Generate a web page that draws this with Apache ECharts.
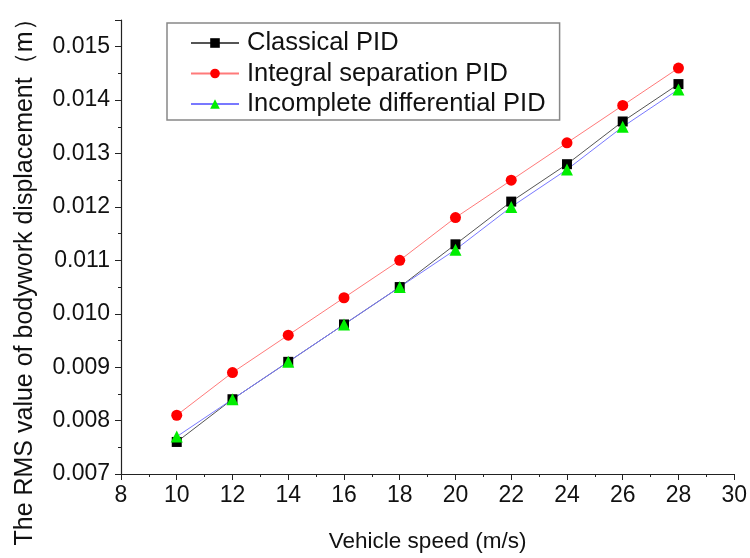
<!DOCTYPE html>
<html>
<head>
<meta charset="utf-8">
<script src="https://cdn.jsdelivr.net/npm/echarts@6/dist/echarts.min.js"></script>
<style>
  html, body { margin: 0; padding: 0; background: #fff; }
  #chart { width: 750px; height: 558px; }
</style>
</head>
<body>
<div id="chart"></div>
<script>
// vehicle speed (m/s)
const speeds = [10, 12, 14, 16, 18, 20, 22, 24, 26, 28];
// RMS bodywork displacement (m)
const classicalPid = [0.0076, 0.0084, 0.0091, 0.0098, 0.0105, 0.0113, 0.0121, 0.0128, 0.0136, 0.0143];
const integralSepPid = [0.0081, 0.0089, 0.0096, 0.0103, 0.0110, 0.0118, 0.0125, 0.0132, 0.0139, 0.0146];
const incompleteDiffPid = [0.0077, 0.0084, 0.0091, 0.0098, 0.0105, 0.0112, 0.0120, 0.0127, 0.0135, 0.0142];

const font = 'Arial, "Liberation Sans", sans-serif';

const pairs = (ys) => speeds.map((x, i) => [x, ys[i]]);

const chart = echarts.init(document.getElementById('chart'));

const mkSeries = (name, data, lineColor, symbol, symColor, size) => ({
    name: name,
    type: 'line',
    data: pairs(data),
    symbol: symbol,
    symbolSize: size,
    lineStyle: { color: lineColor, width: 1 },
    itemStyle: { color: symColor },
    animation: false
});

chart.setOption({
    backgroundColor: '#fff',
    grid: { left: 121, right: 11, top: 20, bottom: 82 },
    legend: {
        left: 167,
        top: 23,
        orient: 'vertical',
        itemWidth: 48,
        itemHeight: 12,
        itemGap: 4.5,
        padding: [7, 14, 3, 23],
        borderColor: '#888',
        borderWidth: 1.5,
        textStyle: { fontFamily: font, fontSize: 25.5, lineHeight: 25, color: '#111', padding: [0, 0, 0, 3] },
        data: ['Classical PID', 'Integral separation PID', 'Incomplete differential PID']
    },
    graphic: [{
        type: 'text',
        x: 25,
        y: 276,
        rotation: Math.PI / 2,
        style: {
            text: 'The RMS value of bodywork displacement（m）',
            font: '25px ' + font,
            fill: '#111',
            align: 'center',
            verticalAlign: 'middle'
        }
    }],
    xAxis: {
        type: 'value',
        min: 8,
        max: 30,
        interval: 2,
        name: 'Vehicle speed (m/s)',
        nameLocation: 'middle',
        nameGap: 56,
        nameTextStyle: { fontFamily: font, fontSize: 22.5, color: '#111' },
        axisLine: { lineStyle: { color: '#222', width: 1.2 } },
        axisTick: { inside: false, length: 6, lineStyle: { color: '#222' } },
        minorTick: { show: true, splitNumber: 2, length: 3, lineStyle: { color: '#222' } },
        axisLabel: { fontFamily: font, fontSize: 23, color: '#111', margin: 10 },
        splitLine: { show: false }
    },
    yAxis: {
        type: 'value',
        min: 0.007,
        max: 0.0155,
        interval: 0.001,
        axisLine: { show: true, lineStyle: { color: '#222', width: 1.2 } },
        axisTick: { inside: false, length: 6, lineStyle: { color: '#222' } },
        minorTick: { show: true, splitNumber: 2, length: 3, lineStyle: { color: '#222' } },
        axisLabel: {
            fontFamily: font, fontSize: 23, color: '#111', margin: 11,
            formatter: (v) => v > 0.01525 ? '' : v.toFixed(3)
        },
        splitLine: { show: false }
    },
    series: [
        mkSeries('Classical PID', classicalPid, '#555', 'rect', '#000', 10),
        mkSeries('Integral separation PID', integralSepPid, '#ff7a7a', 'circle', '#ff0000', 11),
        mkSeries('Incomplete differential PID', incompleteDiffPid, '#7878ff', 'triangle', '#00ee00', 12)
    ]
});
</script>
</body>
</html>
